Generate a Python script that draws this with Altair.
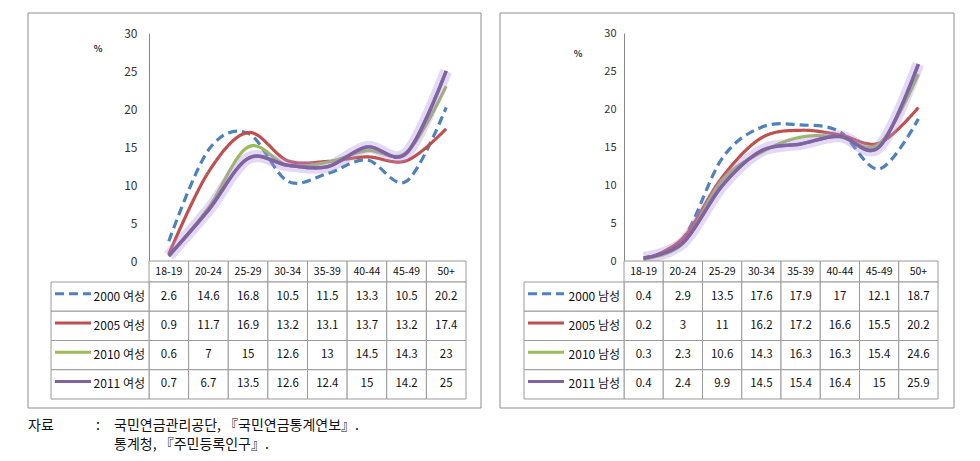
import altair as alt
import pandas as pd

FONT = "Noto Sans CJK KR"
GRID = "#9A9A9A"

ages = ["18-19", "20-24", "25-29", "30-34", "35-39", "40-44", "45-49", "50+"]
years = ["2000", "2005", "2010", "2011"]

female_2000 = [2.6, 14.6, 16.8, 10.5, 11.5, 13.3, 10.5, 20.2]
female_2005 = [0.9, 11.7, 16.9, 13.2, 13.1, 13.7, 13.2, 17.4]
female_2010 = [0.6, 7, 15, 12.6, 13, 14.5, 14.3, 23]
female_2011 = [0.7, 6.7, 13.5, 12.6, 12.4, 15, 14.2, 25]

male_2000 = [0.4, 2.9, 13.5, 17.6, 17.9, 17, 12.1, 18.7]
male_2005 = [0.2, 3, 11, 16.2, 17.2, 16.6, 15.5, 20.2]
male_2010 = [0.3, 2.3, 10.6, 14.3, 16.3, 16.3, 15.4, 24.6]
male_2011 = [0.4, 2.4, 9.9, 14.5, 15.4, 16.4, 15, 25.9]

y_ticks = [0, 5, 10, 15, 20, 25, 30]
source_label = "자료"
source_lines = ["국민연금관리공단, 『국민연금통계연보』.", "통계청, 『주민등록인구』."]

colors = ["#4F81BD", "#C0504D", "#9BBB59", "#8064A2"]
dashes = [[9, 5], [1, 0], [1, 0], [1, 0]]


def panel(series_vals, sex, W, legend_w, frame, pct, label_pad, label_size, with_source):
    names = [f"{y} {sex}" for y in years]
    rows = []
    for n, vals in zip(names, series_vals):
        for a, v in zip(ages, vals):
            rows.append({"series": n, "age": a, "value": v, "label": f"{v:g}"})
    df = pd.DataFrame(rows)
    dummy = pd.DataFrame({"k": [0]})

    color = alt.Color("series:N", scale=alt.Scale(domain=names, range=colors), legend=None)
    dash = alt.StrokeDash("series:N", scale=alt.Scale(domain=names, range=dashes), legend=None)
    x = alt.X("age:N", sort=ages, scale=alt.Scale(type="point", domain=ages, padding=0.5), axis=None)
    y = alt.Y("value:Q", scale=alt.Scale(domain=[0, 30]),
              axis=alt.Axis(values=y_ticks, title=None, ticks=False, grid=False, zindex=1,
                            domainColor="#868686", labelPadding=label_pad,
                            labelFontSize=label_size, labelColor="#333333", labelFont=FONT))

    fx0, fx1, fy0, fy1 = frame
    frame_mark = alt.Chart(dummy).mark_rect(fill="white", stroke="#8C8C8C", strokeWidth=1).encode(
        x=alt.value(fx0), x2=alt.value(fx1), y=alt.value(fy0), y2=alt.value(fy1))
    pct_mark = alt.Chart(dummy).mark_text(text="%", fontSize=9, fontWeight="bold", font=FONT,
                                          color="#333333").encode(
        x=alt.value(pct[0]), y=alt.value(pct[1]))

    base = alt.Chart(df)
    lines = base.mark_line(interpolate="cardinal", strokeWidth=3.2).encode(
        x=x, y=y, color=color, strokeDash=dash)
    glow = base.transform_filter(alt.datum.series == names[3]).mark_line(
        interpolate="cardinal", strokeWidth=12, opacity=0.35, color="#B293E3").encode(x=x, y=y)
    top_line = base.transform_filter(alt.datum.series == names[3]).mark_line(
        interpolate="cardinal", strokeWidth=3.5, color=colors[3]).encode(x=x, y=y)

    line_chart = alt.layer(frame_mark, pct_mark, lines, glow, top_line).properties(width=W, height=228)

    xb = alt.X("age:N", sort=ages, scale=alt.Scale(domain=ages, paddingInner=0, paddingOuter=0), axis=None)
    hdr_df = pd.DataFrame({"age": ages})
    header = alt.layer(
        alt.Chart(hdr_df).mark_rect(fill="white", stroke=GRID, strokeWidth=1).encode(x=xb),
        alt.Chart(hdr_df).mark_text(fontSize=10.5, font=FONT, color="#111111").encode(x=xb, text="age:N"),
    ).properties(width=W, height=21)

    yb = alt.Y("series:N", sort=names, scale=alt.Scale(domain=names, paddingInner=0, paddingOuter=0), axis=None)
    leg_df = pd.DataFrame({"series": names})
    cells = alt.Chart(df).mark_rect(fill="white", stroke=GRID, strokeWidth=1).encode(x=xb, y=yb)
    texts = alt.Chart(df).mark_text(fontSize=11.5, font=FONT, color="#111111").encode(
        x=xb, y=yb, text="label:N")
    leg_cells = alt.Chart(leg_df).mark_rect(fill="white", stroke=GRID, strokeWidth=1).encode(
        x=alt.value(-legend_w), x2=alt.value(0), y=yb)
    leg_text = alt.Chart(leg_df).mark_text(align="right", fontSize=12, font=FONT, color="#111111").encode(
        x=alt.value(-4), y=yb, text="series:N")
    leg_sw = alt.Chart(leg_df).mark_rule(strokeWidth=3, yOffset=-3).encode(
        x=alt.value(-legend_w + 4), x2=alt.value(-legend_w + 40), y=yb, color=color, strokeDash=dash)

    body_layers = [cells, texts, leg_cells, leg_text, leg_sw]
    if with_source:
        src = pd.DataFrame({"k": [0]})
        body_layers += [
            alt.Chart(src).mark_text(text=source_label, fontSize=14, font=FONT, align="left",
                                     color="#111111").encode(x=alt.value(-121), y=alt.value(144)),
            alt.Chart(src).mark_text(text=":", fontSize=14, font=FONT, align="left",
                                     color="#111111").encode(x=alt.value(-53), y=alt.value(144)),
            alt.Chart(src).mark_text(text=source_lines[0], fontSize=14, font=FONT, align="left",
                                     color="#111111").encode(x=alt.value(-35), y=alt.value(144)),
            alt.Chart(src).mark_text(text=source_lines[1], fontSize=14, font=FONT, align="left",
                                     color="#111111").encode(x=alt.value(-35), y=alt.value(163)),
        ]
    body = alt.layer(*body_layers).properties(width=W, height=117)

    return line_chart, header, body


lL, hL, bL = panel([female_2000, female_2005, female_2010, female_2011], "여성",
                   W=317, legend_w=98, frame=(-121, 332, -20, 375), pct=(-51, 16),
                   label_pad=12, label_size=12, with_source=True)
lR, hR, bR = panel([male_2000, male_2005, male_2010, male_2011], "남성",
                   W=314, legend_w=100, frame=(-124, 330, -20, 375), pct=(-46, 21),
                   label_pad=8, label_size=11, with_source=False)

chart = alt.concat(lL, lR, hL, hR, bL, bR, columns=2, spacing={"row": 0, "column": 158},
                   bounds="flush", align="each").properties(
    padding={"left": 19, "top": 4, "right": 5, "bottom": 5}
).configure(font=FONT).configure_view(strokeWidth=0)

chart.save("out.html", embed_options={"renderer": "svg", "actions": False})
